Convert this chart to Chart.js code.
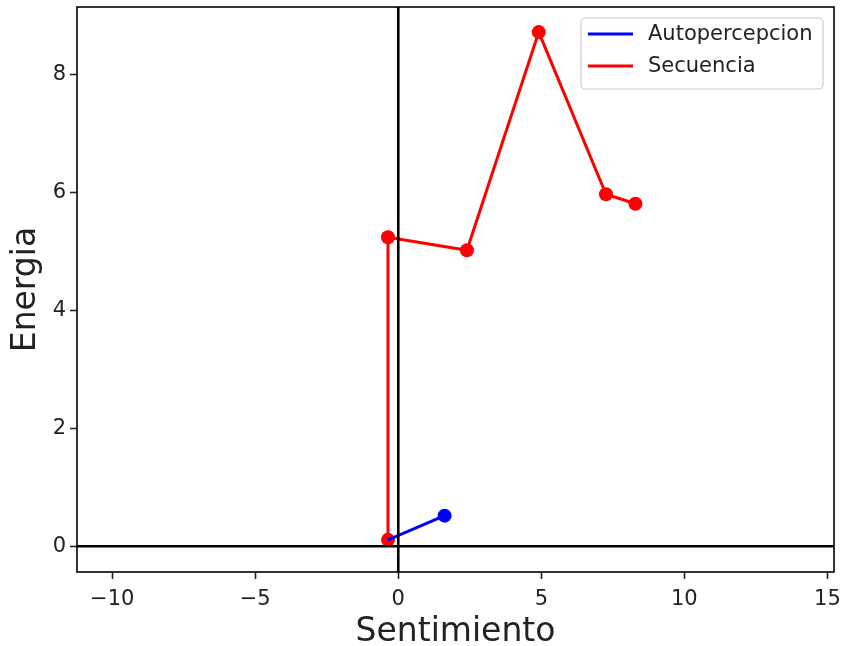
<!DOCTYPE html>
<html>
<head>
<meta charset="utf-8">
<script src="https://cdn.jsdelivr.net/npm/chart.js@4.4.1/dist/chart.umd.min.js"></script>
<style>
  html, body { margin: 0; padding: 0; background: #fff; }
  canvas { display: block; }
</style>
</head>
<body>
<canvas id="chart" width="844" height="646"></canvas>
<script>
// Series: sentimiento (x) vs energia (y)
const autoSentimiento = [-0.36, 1.62];
const autoEnergia = [0.11, 0.52];
const secSentimiento = [-0.36, -0.36, 2.40, 4.91, 7.26, 8.29];
const secEnergia = [0.11, 5.24, 5.02, 8.72, 5.97, 5.81];

const seriesLabels = ['Autopercepcion', 'Secuencia'];
const seriesColors = ['#0000ff', '#ff0000'];

// Axis ticks and limits
const xTicks = [-10, -5, 0, 5, 10, 15];
const yTicks = [0, 2, 4, 6, 8];
const xLimits = [-11.23, 15.23];
const yLimits = [-0.4355, 9.1455];

const FONT = "'DejaVu Sans', sans-serif";
const TEXT = '#222222';

function toPoints(xs, ys) {
  return xs.map((x, i) => ({ x: x, y: ys[i] }));
}

function fmt(v) {
  return v < 0 ? '\u2212' + Math.abs(v) : String(v);
}

// Black reference lines at x = 0 and y = 0
const zeroLines = {
  id: 'zeroLines',
  afterDatasetsDraw(chart) {
    const { ctx, chartArea: a, scales: { x, y } } = chart;
    ctx.save();
    ctx.beginPath();
    ctx.rect(a.left, a.top, a.right - a.left, a.bottom - a.top);
    ctx.clip();
    ctx.strokeStyle = '#000';
    ctx.lineWidth = 2.6;
    const px = x.getPixelForValue(0);
    const py = y.getPixelForValue(0);
    ctx.beginPath();
    ctx.moveTo(a.left, py); ctx.lineTo(a.right, py);
    ctx.moveTo(px, a.top); ctx.lineTo(px, a.bottom);
    ctx.stroke();
    ctx.restore();
  }
};

// Axes frame and legend box in the upper right corner
const frameAndLegend = {
  id: 'frameAndLegend',
  afterDraw(chart) {
    const { ctx, chartArea: a } = chart;
    ctx.save();
    ctx.strokeStyle = '#000';
    ctx.lineWidth = 1.6;
    ctx.strokeRect(a.left, a.top, a.right - a.left, a.bottom - a.top);

    const bx = a.right - 253, by = a.top + 11, bw = 242, bh = 71, r = 4;
    ctx.beginPath();
    ctx.moveTo(bx + r, by);
    ctx.arcTo(bx + bw, by, bx + bw, by + bh, r);
    ctx.arcTo(bx + bw, by + bh, bx, by + bh, r);
    ctx.arcTo(bx, by + bh, bx, by, r);
    ctx.arcTo(bx, by, bx + bw, by, r);
    ctx.closePath();
    ctx.fillStyle = 'rgba(255,255,255,0.8)';
    ctx.fill();
    ctx.strokeStyle = '#cccccc';
    ctx.lineWidth = 1.2;
    ctx.stroke();

    ctx.font = '21px ' + FONT;
    ctx.textBaseline = 'middle';
    ctx.textAlign = 'left';
    chart.data.datasets.forEach((ds, i) => {
      const ly = by + 16 + i * 32;
      ctx.strokeStyle = ds.borderColor;
      ctx.lineWidth = 3;
      ctx.beginPath();
      ctx.moveTo(bx + 7, ly);
      ctx.lineTo(bx + 52, ly);
      ctx.stroke();
      ctx.fillStyle = TEXT;
      ctx.fillText(ds.label, bx + 67, ly + 1);
    });
    ctx.restore();
  }
};

// The self-perception trace marks only its final position
const markerRadius = [
  c => (c.dataIndex === autoSentimiento.length - 1 ? 7 : 0),
  7
];

const datasets = [
  { data: toPoints(autoSentimiento, autoEnergia) },
  { data: toPoints(secSentimiento, secEnergia) }
].map((d, i) => Object.assign(d, {
  label: seriesLabels[i],
  showLine: true,
  borderColor: seriesColors[i],
  backgroundColor: seriesColors[i],
  borderWidth: 3,
  pointRadius: markerRadius[i],
  pointHoverRadius: markerRadius[i],
  pointBorderWidth: 0,
  pointBackgroundColor: seriesColors[i],
  tension: 0
}));

new Chart(document.getElementById('chart'), {
  type: 'scatter',
  data: { datasets: datasets },
  options: {
    responsive: false,
    devicePixelRatio: 1,
    animation: false,
    layout: { padding: { top: 6, right: 10, left: 0, bottom: 0 } },
    plugins: { legend: { display: false }, tooltip: { enabled: false } },
    scales: {
      x: {
        type: 'linear',
        min: xLimits[0],
        max: xLimits[1],
        afterBuildTicks: s => { s.ticks = xTicks.map(v => ({ value: v })); },
        afterFit: s => { s.height = 74; s.paddingLeft = 0; s.paddingRight = 0; },
        ticks: {
          callback: v => fmt(v),
          font: { family: FONT, size: 21 },
          color: TEXT,
          padding: 8,
          maxRotation: 0
        },
        grid: { drawOnChartArea: false, tickLength: 7, tickColor: TEXT, tickWidth: 1.6 },
        border: { display: false },
        title: {
          display: true,
          text: 'Sentimiento',
          font: { family: FONT, size: 33, lineHeight: 1 },
          color: TEXT,
          padding: { top: 0, bottom: -3 }
        }
      },
      y: {
        type: 'linear',
        min: yLimits[0],
        max: yLimits[1],
        afterBuildTicks: s => { s.ticks = yTicks.map(v => ({ value: v })); },
        afterFit: s => { s.width = 77; s.paddingTop = 0; s.paddingBottom = 0; },
        ticks: {
          callback: v => fmt(v),
          font: { family: FONT, size: 21 },
          color: TEXT,
          padding: 4
        },
        grid: { drawOnChartArea: false, tickLength: 7, tickColor: TEXT, tickWidth: 1.6 },
        border: { display: false },
        title: {
          display: true,
          text: 'Energia',
          font: { family: FONT, size: 33, lineHeight: 1 },
          color: TEXT,
          padding: { top: 10, bottom: 0 }
        }
      }
    }
  },
  plugins: [zeroLines, frameAndLegend]
});
</script>
</body>
</html>
